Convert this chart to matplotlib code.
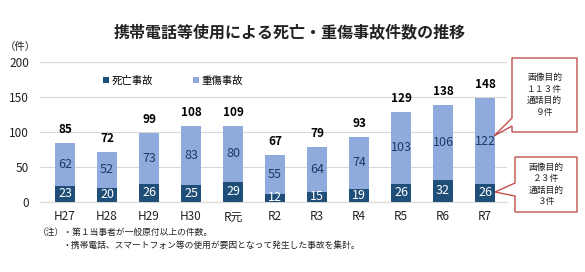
import matplotlib.pyplot as plt
from matplotlib.patches import Polygon

plt.rcParams['font.family'] = ['Noto Sans CJK JP', 'DejaVu Sans']

years = ['H27', 'H28', 'H29', 'H30', 'R元', 'R2', 'R3', 'R4', 'R5', 'R6', 'R7']
deaths = [23, 20, 26, 25, 29, 12, 15, 19, 26, 32, 26]
serious = [62, 52, 73, 83, 80, 55, 64, 74, 103, 106, 122]
totals = [d + s for d, s in zip(deaths, serious)]

dark = '#1f4e79'
light = '#8faadc'
red = '#c0504d'

W, H = 585, 272
fig = plt.figure(figsize=(W / 100, H / 100), dpi=100)

# main axes, placed in pixel terms
ax = fig.add_axes([40 / W, (H - 202) / H, 467 / W, 140 / H])
x = list(range(len(years)))
ax.bar(x, deaths, width=0.48, color=dark, label='死亡事故', zorder=3)
ax.bar(x, serious, width=0.48, bottom=deaths, color=light, label='重傷事故', zorder=3)

for i in x:
    ax.text(i, deaths[i] / 2, str(deaths[i]), ha='center', va='center',
            color='white', fontsize=9, zorder=4)
    ax.text(i, deaths[i] + serious[i] / 2, str(serious[i]), ha='center', va='center',
            color='#1f3864', fontsize=9, zorder=4)
    ax.annotate(str(totals[i]), (i, totals[i]), xytext=(0, 5), textcoords='offset points',
                ha='center', va='bottom', fontsize=8.5, fontweight='bold', color='black')

ax.set_xlim(-0.595, 10.52)
ax.set_ylim(0, 200)
ax.set_yticks([0, 50, 100, 150, 200])
ax.set_xticks(x)
ax.set_xticklabels(years)
ax.tick_params(length=0, labelsize=8.5, colors='#222222')
ax.tick_params(axis='y', pad=8)
ax.tick_params(axis='x', pad=6)
ax.grid(axis='y', color='#d9d9d9', lw=0.8, zorder=0)
for s in ['top', 'right', 'left']:
    ax.spines[s].set_visible(False)
ax.spines['bottom'].set_color('#d9d9d9')

leg = ax.legend(loc='upper left', bbox_to_anchor=(0.115, 0.97), ncol=2, frameon=False,
                fontsize=7.5, handlelength=0.55, handleheight=0.55, handletextpad=0.3,
                columnspacing=3.8)

# overlay for title, notes and callouts (pixel coords)
ov = fig.add_axes([0, 0, 1, 1], zorder=5)
ov.set_xlim(0, W)
ov.set_ylim(H, 0)
ov.axis('off')

ov.text(290, 32, '携帯電話等使用による死亡・重傷事故件数の推移', ha='center', va='center',
        fontsize=11.5, fontweight='bold', color='#222222')
ov.text(20, 47, '（件）', ha='center', va='center', fontsize=7.5, color='#222222')

ov.text(38, 232, '（注）・第１当事者が一般原付以上の件数。', ha='left', va='center',
        fontsize=6.3, color='#222222')
ov.text(63, 245, '・携帯電話、スマートフォン等の使用が要因となって発生した事故を集計。',
        ha='left', va='center', fontsize=6.3, color='#222222')


def callout(x0, y0, x1, y1, py0, py1, tip, text):
    pts = [(x0, y0), (x1, y0), (x1, y1), (x0, y1), (x0, py1), tip, (x0, py0)]
    ov.add_patch(Polygon(pts, closed=True, facecolor='white', edgecolor=red, lw=1.0))
    ov.text((x0 + x1) / 2, (y0 + y1) / 2, text, ha='center', va='center',
            fontsize=6.3, linespacing=1.35, color='#222222')


callout(512, 58, 577, 132, 118, 126, (494, 136), '画像目的\n１１３件\n通話目的\n９件')
callout(515, 157, 577, 212, 183, 196, (495, 192), '画像目的\n２３件\n通話目的\n３件')

fig.savefig('out.png', dpi=100)
